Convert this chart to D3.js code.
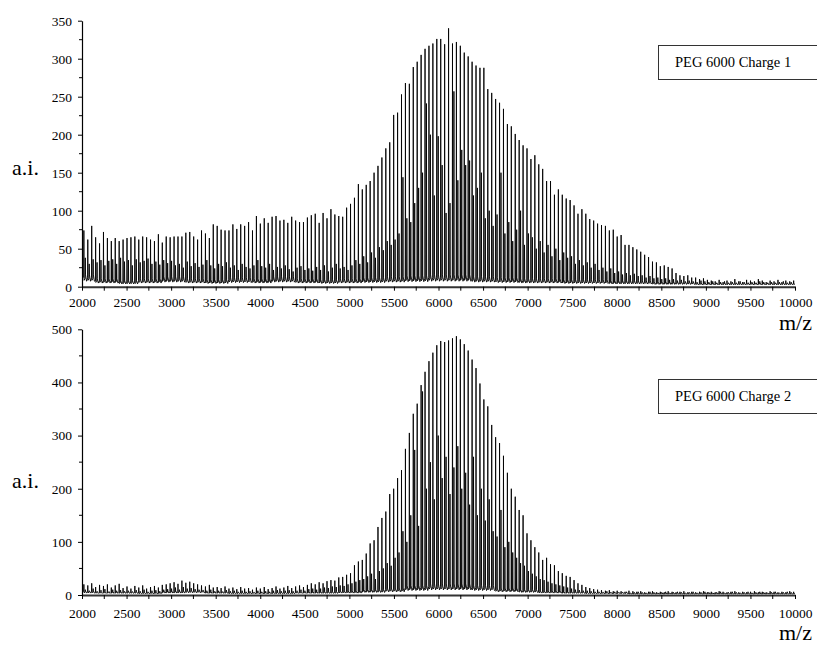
<!DOCTYPE html>
<html><head><meta charset="utf-8">
<script src="https://cdn.jsdelivr.net/npm/d3@7"></script>
<style>
body{margin:0;background:#fff;}
svg{display:block;}
text{font-family:"Liberation Serif","Times New Roman",serif;fill:#000;}
</style></head>
<body><svg id="c" width="817" height="646"></svg>
<script>
// ---------- data ----------
const peakMz = [2021,2065,2109,2153,2197,2241,2285,2329,2373,2417,2461,2505,2549,2593,2637,2681,2725,2769,2813,2857,
2901,2945,2989,3033,3077,3121,3165,3209,3253,3297,3341,3385,3429,3473,3517,3561,3605,3649,3693,3737,
3781,3825,3869,3913,3957,4001,4045,4089,4133,4177,4221,4265,4309,4353,4397,4441,4485,4529,4573,4617,
4661,4705,4749,4793,4837,4881,4925,4969,5013,5057,5101,5145,5189,5233,5277,5321,5365,5409,5453,5497,
5541,5585,5629,5673,5717,5761,5805,5849,5893,5937,5981,6025,6069,6113,6157,6201,6245,6289,6333,6377,
6421,6465,6509,6553,6597,6641,6685,6729,6773,6817,6861,6905,6949,6993,7037,7081,7125,7169,7213,7257,
7301,7345,7389,7433,7477,7521,7565,7609,7653,7697,7741,7785,7829,7873,7917,7961,8005,8049,8093,8137,
8181,8225,8269,8313,8357,8401,8445,8489,8533,8577,8621,8665,8709,8753,8797,8841,8885,8929,8973,9017,
9061,9105,9149,9193,9237,9281,9325,9369,9413,9457,9501,9545,9589,9633,9677,9721,9765,9809,9853,9897,
9941,9985];

// PEG 6000 Charge 1 : main series heights
const charge1Main = [74,62,80,65,57,72,64,60,64,60, 62,64,65,66,62,66,65,62,60,69,
58,66,65,66,66,66,71,72,66,62, 74,70,64,82,80,75,74,74,82,76,
82,80,85,74,93,83,90,84,92,93, 87,88,84,92,87,85,85,91,94,96,
84,97,90,102,95,93,92,104,109,117, 135,128,134,139,150,159,170,182,190,226,
229,253,268,267,289,296,305,313,317,320, 326,326,319,340,320,322,317,308,303,296,
291,288,288,260,255,247,242,234,214,211, 201,193,186,182,168,173,161,155,139,139,
121,128,121,116,114,107,96,102,96,89, 87,83,81,80,74,75,66,68,55,55,
52,49,46,42,39,33,32,27,28,26, 24,18,15,14,15,12,12,10,11,9,
8,7,9,6,8,7,10,7,6,9, 8,7,10,8,6,8,7,9,6,8,7,8];
// PEG 6000 Charge 1 : adduct series heights (+16)
const charge1Adduct = [38,30,36,32,35,28,34,36,30,38,33,35,28,36,32,34,37,30,33,29,35,31,34,
28,30,25,33,27,31,26,29,35,28,24,30,27,32,25,28,22,30,26,24,28,35,27,25,30,22,26,24,28,23,20,25,27,22,24,21,26,
22,28,20,25,30,24,26,22,28,35,30,40,32,45,38,52,48,60,55,62,
70,144,90,85,110,130,150,241,200,120,198,160,97,110,257,140,180,160,166,120,
130,150,90,100,80,95,150,70,85,60,75,100,55,70,65,50,60,45,55,40,50,35,45,38,40,30,35,28,32,25,30,
22,25,20,24,18,20,16,18,15,17,14,15,12,14,11,12,10,11,9,10,8,9,7,8,7,6,8,7,6,7,5,6,7,5,6,5,7,6,5,6,5,7,6,5,6,5,6,7,5,6,5];

// PEG 6000 Charge 2 : main series heights
const charge2Main = [20,18,22,15,19,17,20,14,18,21, 13,16,12,17,14,18,12,15,17,14,
19,20,22,24,21,27,23,25,22,20, 18,16,19,14,15,13,16,12,14,11,
15,12,13,10,14,12,15,11,13,16, 12,14,17,13,16,18,15,19,22,20,
24,22,26,28,27,33,34,38,41,56, 63,66,78,97,103,128,145,157,190,200,
220,235,275,305,341,360,395,420,440,456, 470,478,476,479,483,487,481,472,460,443,
427,398,368,355,320,297,286,262,230,200, 185,160,150,116,103,90,80,66,70,58,
56,45,41,36,34,28,22,19,15,13, 11,10,9,8,9,7,8,7,6,8,
7,6,7,5,6,7,5,6,5,7, 6,5,6,7,5,6,5,6,7,5,
6,5,7,6,5,6,7,5,6,5, 6,7,5,6,5,7,6,5,6,5,7,6];
// PEG 6000 Charge 2 : adduct series heights (+16)
const charge2Adduct = [10,8,12,7,9,11,6,10,8,9,7,8,6,9,7,10,6,8,9,7,10,11,12,14,10,15,12,13,11,10,
9,8,10,7,8,6,9,7,8,6,8,6,7,5,8,6,7,6,8,9,7,8,9,7,8,10,8,11,12,10,
12,14,13,16,15,18,17,20,22,25,28,30,35,40,30,45,50,60,55,70,
80,120,100,150,273,130,383,200,250,180,300,220,260,190,240,280,200,230,170,260,
150,200,140,180,120,110,160,90,100,80,70,60,55,45,40,35,30,28,25,22,20,18,16,14,12,10,9,8,8,7,6,
6,5,7,5,6,4,5,6,4,5,6,5,4,6,5,4,5,6,4,5,6,5,4,5,6,4,5,6,5,4,5,6,4,5,6,5,4,5,6,4,5,6,5,4,5,6,4,5,6,5,4];

// baseline levels (noise floor) read every 250 m/z
const baseMz = [2000,2250,2500,2750,3000,3250,3500,3750,4000,4250,4500,4750,5000,5250,5500,5750,6000,
6250,6500,6750,7000,7250,7500,7750,8000,8250,8500,8750,9000,9250,9500,9750,10000];
const charge1Base = [12,8,6,8,10,8,7,9,8,10,8,7,8,9,10,11,12,12,10,9,8,8,7,7,6,6,5,5,4,4,4,4,4];
const charge2Base = [6,5,5,4,6,7,5,4,4,4,5,5,6,8,10,14,16,16,14,10,8,6,5,4,4,3,3,3,3,3,3,3,3];

const xTicksMajor = [2000,2500,3000,3500,4000,4500,5000,5500,6000,6500,7000,7500,8000,8500,9000,9500,10000];
const xTicksMinor = [2250,2750,3250,3750,4250,4750,5250,5750,6250,6750,7250,7750,8250,8750,9250,9750];
const y1Major = [0,50,100,150,200,250,300,350];
const y1Minor = [25,75,125,175,225,275,325];
const y2Major = [0,100,200,300,400,500];
const y2Minor = [50,150,250,350,450];
const adductShift = 16;

// ---------- drawing ----------
const svg = d3.select("#c");
const panels = [
  {main: charge1Main, add: charge1Adduct, base: charge1Base, ymax: 350, yMaj: y1Major, yMin: y1Minor,
   top: 20.7, bottom: 286.7, label: "PEG 6000 Charge 1", box: [658, 45, 34], ai: 175, mz: 330, xlabPad: 10.5},
  {main: charge2Main, add: charge2Adduct, base: charge2Base, ymax: 500, yMaj: y2Major, yMin: y2Minor,
   top: 329.3, bottom: 595, label: "PEG 6000 Charge 2", box: [658, 379, 34], ai: 488, mz: 640, xlabPad: 13}
];
const x = d3.scaleLinear().domain([2000, 10000]).range([82, 795]);

panels.forEach((p, pi) => {
  const y = d3.scaleLinear().domain([0, p.ymax]).range([p.bottom, p.top]);
  const baseAt = mz => p.base[d3.bisectCenter(baseMz, mz)];
  const pts = [];
  const n = Math.min(peakMz.length, p.main.length);
  for (let i = 0; i < n; i++) {
    const m = peakMz[i], b = baseAt(m);
    pts.push([m - 2.5, b], [m, p.main[i]], [m + 2.5, b * 0.7]);
    if (i < p.add.length) {
      pts.push([m + adductShift - 2.5, b * 0.9], [m + adductShift, p.add[i]], [m + adductShift + 2.5, b * 1.3]);
    }
    pts.push([m + 30, b * 0.6]);
  }
  const clipId = "clip" + pi;
  svg.append("clipPath").attr("id", clipId).append("rect")
    .attr("x", 82).attr("y", p.top - 10).attr("width", 795 - 82).attr("height", p.bottom - p.top + 10);
  svg.append("path")
    .attr("clip-path", `url(#${clipId})`)
    .attr("d", d3.line().x(d => x(d[0])).y(d => y(d[1]))(pts.filter(d => d[0] >= 2000 && d[0] <= 10000)))
    .attr("fill", "none").attr("stroke", "#000").attr("stroke-width", 0.9).attr("stroke-linejoin", "bevel");

  // x axis
  const gx = svg.append("g").attr("transform", `translate(0,${p.bottom})`);
  gx.call(d3.axisBottom(x).tickValues(xTicksMajor).tickSize(4).tickSizeOuter(0).tickPadding(p.xlabPad - 4)
    .tickFormat(d3.format("d")));
  gx.append("g").selectAll("line").data(xTicksMinor).join("line")
    .attr("x1", d => x(d)).attr("x2", d => x(d)).attr("y1", 0).attr("y2", 4).attr("stroke", "#000");
  gx.select(".domain").attr("stroke", "#333").attr("stroke-width", 2);
  gx.selectAll(".tick line").attr("stroke", "#000");
  gx.selectAll("text").style("font-size", "13.5px").style("font-family", "Liberation Serif");

  // y axis
  const gy = svg.append("g").attr("transform", "translate(82,0)");
  gy.call(d3.axisLeft(y).tickValues(p.yMaj).tickSize(4).tickSizeOuter(0).tickPadding(6).tickFormat(d3.format("d")));
  gy.append("g").selectAll("line").data(p.yMin).join("line")
    .attr("x1", -3).attr("x2", 0).attr("y1", d => y(d)).attr("y2", d => y(d)).attr("stroke", "#000");
  gy.select(".domain").attr("stroke", "#000").attr("stroke-width", 1.2);
  gy.selectAll("text").style("font-size", "13.5px").style("font-family", "Liberation Serif");

  // axis titles
  svg.append("text").attr("x", 12).attr("y", p.ai).style("font-size", "22px").text("a.i.");
  svg.append("text").attr("x", 812).attr("y", p.mz).attr("text-anchor", "end").style("font-size", "22px").text("m/z");

  // legend box
  svg.append("rect").attr("x", p.box[0] + 0.5).attr("y", p.box[1] + 0.5).attr("width", 170).attr("height", p.box[2])
    .attr("fill", "#fff").attr("stroke", "#333").attr("stroke-width", 1);
  svg.append("text").attr("x", 675).attr("y", p.box[1] + p.box[2] / 2 + 5)
    .style("font-size", "14.5px").text(p.label);
});
</script></body></html>
